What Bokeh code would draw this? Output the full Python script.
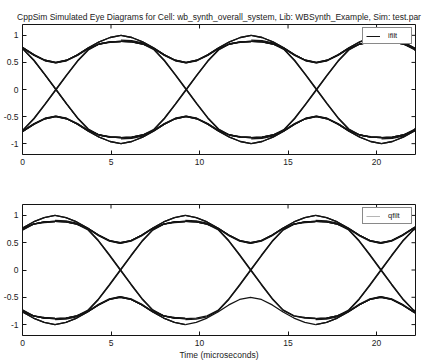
import math
from bokeh.plotting import figure
from bokeh.models import FixedTicker, Range1d, Legend, LegendItem
from bokeh.layouts import column
from bokeh.embed import file_html
from bokeh.resources import INLINE

# ---------------- data ----------------
title_text = ("CppSim Simulated Eye Diagrams for Cell: wb_synth_overall_system, "
              "Lib: WBSynth_Example, Sim: test.par")
x_label = "Time (microseconds)"
x_ticks = [0, 5, 10, 15, 20]
x_tick_labels = ["0", "5", "10", "15", "20"]
y_ticks = [-1, -0.5, 0, 0.5, 1]
y_tick_labels = ["-1", "-0.5", "0", "0.5", "1"]
x_limits = [0, 22.2]
y_limits = [-1.2, 1.2]

symbol_period = 7.36                       # microseconds
i_interval_starts = [-1.80, 5.56, 12.92, 20.28]   # ifilt sampling instants
q_interval_starts = [-5.52, 1.84, 9.20, 16.56]    # qfilt sampling instants
u_frac = [k / 12 for k in range(13)]       # position inside one symbol interval

# trace shapes over one symbol interval (upper half of the eye)
dip_oo = [1.00, 0.96, 0.88, 0.77, 0.64, 0.54, 0.50, 0.54, 0.64, 0.77, 0.88, 0.96, 1.00]
dip_ii = [0.89, 0.88, 0.84, 0.76, 0.64, 0.54, 0.50, 0.54, 0.64, 0.76, 0.84, 0.88, 0.89]
dip_oi = [1.00, 0.96, 0.88, 0.77, 0.64, 0.54, 0.49, 0.53, 0.63, 0.76, 0.84, 0.88, 0.89]
dip_io = [0.89, 0.88, 0.84, 0.76, 0.63, 0.53, 0.49, 0.54, 0.64, 0.77, 0.88, 0.96, 1.00]
cross_a = [0.89, 0.88, 0.84, 0.74, 0.53, 0.27, 0.00, -0.27, -0.53, -0.74, -0.84, -0.88, -0.89]
cross_b = [0.91, 0.90, 0.86, 0.75, 0.54, 0.28, 0.01, -0.26, -0.52, -0.73, -0.84, -0.87, -0.88]

shapes = {"oo": dip_oo, "ii": dip_ii, "oi": dip_oi, "io": dip_io}
all_dips = ["oo", "ii", "oi", "io"]
i_upper_dips = [all_dips, all_dips, all_dips, all_dips]
i_lower_dips = [all_dips, all_dips, all_dips, all_dips]
q_upper_dips = [all_dips, all_dips, all_dips, all_dips]
q_lower_dips = [all_dips, all_dips, ["oo"], all_dips]

FONT = "Liberation Sans"
INK = "#141414"
TXT = "#222222"
FIG_W = 424
LW = 1.3


def style_axis(ax, standoff):
    ax.axis_line_color = None
    ax.major_tick_in = 4
    ax.major_tick_out = 0
    ax.minor_tick_line_color = None
    ax.major_tick_line_color = INK
    ax.major_label_text_font = FONT
    ax.major_label_text_font_size = "8.5px"
    ax.major_label_text_color = TXT
    ax.major_label_standoff = standoff


def make_fig(starts, upper, lower, legend_label, legend_color, height,
             top, bottom, title=None, xlabel=None):
    p = figure(width=FIG_W, height=height,
               x_range=Range1d(*x_limits), y_range=Range1d(*y_limits),
               output_backend="svg", toolbar_location=None,
               min_border_left=21, min_border_right=9,
               min_border_top=top, min_border_bottom=bottom)
    p.grid.visible = False
    p.outline_line_color = INK
    p.outline_line_width = 1
    p.background_fill_color = "white"

    # legend sample line (lies under the first black trace)
    x0 = [starts[0] + f * symbol_period for f in u_frac]
    legend_r = p.line(x0, cross_a, line_color=legend_color, line_width=1)

    for k, s in enumerate(starts):
        x = [s + f * symbol_period for f in u_frac]
        for name in upper[k]:
            p.line(x, shapes[name], line_color=INK, line_width=LW)
        for name in lower[k]:
            p.line(x, [-v for v in shapes[name]], line_color=INK, line_width=LW)
        for c in (cross_a, cross_b):
            p.line(x, c, line_color=INK, line_width=LW)
            p.line(x, [-v for v in c], line_color=INK, line_width=LW)

    leg = Legend(items=[LegendItem(label=legend_label, renderers=[legend_r])],
                 location="top_right")
    leg.border_line_color = INK
    leg.border_line_width = 1
    leg.background_fill_color = "white"
    leg.background_fill_alpha = 1
    leg.label_text_font = FONT
    leg.label_text_font_size = "7.5px"
    leg.label_text_color = TXT
    leg.label_height = 8
    leg.glyph_height = 8
    leg.glyph_width = 14
    leg.label_standoff = 8
    leg.padding = 3
    leg.margin = 3
    leg.spacing = 0
    p.add_layout(leg, "center")

    xaxis = p.xaxis[0]
    yaxis = p.yaxis[0]
    xaxis.ticker = FixedTicker(ticks=x_ticks, minor_ticks=[])
    yaxis.ticker = FixedTicker(ticks=y_ticks, minor_ticks=[])
    xaxis.major_label_overrides = dict(zip(x_ticks, x_tick_labels))
    yaxis.major_label_overrides = dict(zip(y_ticks, y_tick_labels))
    style_axis(xaxis, 4)
    style_axis(yaxis, 4)

    # inward ticks on the top and right frame edges (box on)
    p.ray(x=x_ticks, y=[y_limits[1]] * len(x_ticks), length=4,
          length_units="screen", angle=-math.pi / 2, line_color=INK, line_width=1)
    p.ray(x=[x_limits[1]] * len(y_ticks), y=y_ticks, length=4,
          length_units="screen", angle=math.pi, line_color=INK, line_width=1)

    if title:
        p.title.text = title
        p.title.align = "center"
        p.title.text_font = FONT
        p.title.text_font_size = "8.5px"
        p.title.text_font_style = "normal"
        p.title.text_color = TXT
        p.title.standoff = 5
    if xlabel:
        xaxis.axis_label = xlabel
        xaxis.axis_label_text_font = FONT
        xaxis.axis_label_text_font_size = "8.5px"
        xaxis.axis_label_text_font_style = "normal"
        xaxis.axis_label_text_color = TXT
        xaxis.axis_label_standoff = 1
    return p


p1 = make_fig(i_interval_starts, i_upper_dips, i_lower_dips, "ifilt", INK,
              184, 24, 30, title=title_text)
p2 = make_fig(q_interval_starts, q_upper_dips, q_lower_dips, "qfilt", "#b5b5b5",
              179, 20, 28, xlabel=x_label)

layout = column(p1, p2, spacing=0)
open("out.html", "w").write(file_html(layout, INLINE))
